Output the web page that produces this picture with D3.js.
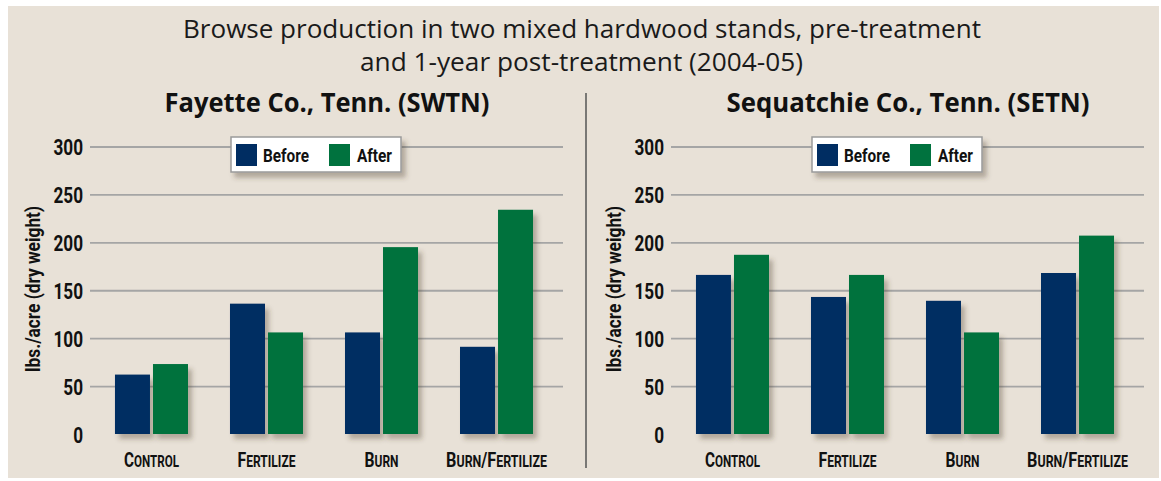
<!DOCTYPE html>
<html>
<head>
<meta charset="utf-8">
<title>Browse production</title>
<script src="https://d3js.org/d3.v7.min.js"></script>
<style>
    body { margin: 0; background: #ffffff; }
    .cond { font-family: Roboto, 'Liberation Sans', sans-serif; font-weight: bold; fill: #111; }
    .main { font-family: 'Open Sans', 'Noto Sans', sans-serif; fill: #1a1a1a; }
</style>
</head>
<body>
<div id="chart"></div>
<script>
// data
var categories = ["Control", "Fertilize", "Burn", "Burn/Fertilize"];
var seriesNames = ["Before", "After"];
var fayetteBefore = [62, 136, 106, 91];
var fayetteAfter = [73, 106, 195, 234];
var sequatchieBefore = [166, 143, 139, 168];
var sequatchieAfter = [187, 166, 106, 207];
var yTicks = [0, 50, 100, 150, 200, 250, 300];
var colors = ["#002d62", "#00723e"];
var labelWidths = [55, 58, 34, 101];

var W = 1161, H = 481;

var svg = d3.select("#chart").append("svg")
    .attr("width", W)
    .attr("height", H);

var defs = svg.append("defs");
var f = defs.append("filter").attr("id", "shadow")
    .attr("x", "-20%").attr("y", "-20%").attr("width", "150%").attr("height", "150%");
f.append("feDropShadow")
    .attr("dx", 4).attr("dy", 5).attr("stdDeviation", 2.5)
    .attr("flood-color", "#4a3c2c").attr("flood-opacity", 0.35);

// beige card
svg.append("rect")
    .attr("x", 8).attr("y", 6)
    .attr("width", 1151).attr("height", 472)
    .attr("fill", "#e8e1d7");

// squeeze text to a given width (no condensed fonts installed)
function fit(sel, w) {
    sel.attr("textLength", w).attr("lengthAdjust", "spacingAndGlyphs");
}
function squeeze(sel, k) {
    sel.each(function () {
        var len = this.getComputedTextLength();
        d3.select(this).attr("textLength", len * k).attr("lengthAdjust", "spacingAndGlyphs");
    });
}

svg.append("text").attr("class", "main")
    .attr("x", 582).attr("y", 38)
    .attr("text-anchor", "middle").style("font-size", "26px")
    .text("Browse production in two mixed hardwood stands, pre-treatment")
    .call(fit, 798);
svg.append("text").attr("class", "main")
    .attr("x", 581.5).attr("y", 71)
    .attr("text-anchor", "middle").style("font-size", "26px")
    .text("and 1-year post-treatment (2004-05)")
    .call(fit, 443);

// divider
svg.append("line")
    .attr("x1", 586).attr("x2", 586)
    .attr("y1", 93).attr("y2", 468)
    .attr("stroke", "#555").attr("stroke-width", 1.5);

var y = d3.scaleLinear().domain([0, 300]).range([434, 146.5]);

function drawPanel(dx, title, titleW, before, after) {
    var g = svg.append("g").attr("transform", "translate(" + dx + ",0)");

    var x = d3.scaleBand().domain(categories)
        .range([93, 555]).paddingInner(0.365).paddingOuter(0.191);
    var xs = d3.scaleBand().domain(seriesNames)
        .range([0, x.bandwidth()]).paddingInner(0.079);

    // title
    g.append("text").attr("class", "main")
        .attr("x", 327).attr("y", 112)
        .attr("text-anchor", "middle")
        .style("font-size", "27px").style("font-weight", "bold").style("fill", "#111")
        .text(title)
        .call(fit, titleW);

    // y axis with gridlines
    var ax = g.append("g")
        .attr("transform", "translate(90,0)")
        .call(d3.axisLeft(y).tickValues(yTicks).tickSize(-473).tickPadding(7));
    ax.select(".domain").remove();
    ax.selectAll(".tick line")
        .attr("stroke", "#a5a5a5").attr("stroke-width", 1.8)
        .filter(function (d) { return d === 0; }).remove();
    ax.selectAll(".tick text")
        .attr("class", "cond")
        .attr("dy", "0.38em")
        .style("font-size", "22px")
        .call(squeeze, 0.78);

    // y title
    g.append("text").attr("class", "cond")
        .attr("transform", "translate(40,289) rotate(-90)")
        .attr("text-anchor", "middle")
        .style("font-size", "21px")
        .text("lbs./acre (dry weight)")
        .call(fit, 166);

    // bars
    var rows = categories.map(function (c, i) {
        return { cat: c, vals: [before[i], after[i]] };
    });
    var grp = g.selectAll(".grp").data(rows).enter().append("g")
        .attr("transform", function (d) { return "translate(" + x(d.cat) + ",0)"; });
    grp.selectAll("rect")
        .data(function (d) { return d.vals.map(function (v, j) { return { s: seriesNames[j], v: v, j: j }; }); })
        .enter().append("rect")
        .attr("x", function (d) { return xs(d.s); })
        .attr("y", function (d) { return y(d.v); })
        .attr("width", xs.bandwidth())
        .attr("height", function (d) { return y(0) - y(d.v); })
        .attr("fill", function (d) { return colors[d.j]; })
        .attr("filter", "url(#shadow)");

    // category labels in small caps, squeezed by a horizontal scale
    categories.forEach(function (c, i) {
        var t = g.append("text").attr("class", "cond")
            .attr("x", 0).attr("y", 0)
            .attr("text-anchor", "middle");
        c.split(/(\/)/).forEach(function (part) {
            if (part === "/") {
                t.append("tspan").style("font-size", "21px").text("/");
            } else {
                t.append("tspan").style("font-size", "21px").text(part[0].toUpperCase());
                t.append("tspan").style("font-size", "16px").text(part.slice(1).toUpperCase());
            }
        });
        var k = labelWidths[i] / t.node().getComputedTextLength();
        t.attr("transform", "translate(" + (x(c) + x.bandwidth() / 2) + ",467) scale(" + k + ",1)");
    });

    // legend
    var lg = g.append("g").attr("transform", "translate(231,137)");
    lg.append("rect")
        .attr("width", 170).attr("height", 35)
        .attr("fill", "#fff").attr("stroke", "#9a9a9a").attr("stroke-width", 1.5)
        .attr("filter", "url(#shadow)");
    var items = [{ n: "Before", sx: 5, tx: 32, w: 46 }, { n: "After", sx: 98, tx: 126, w: 35 }];
    items.forEach(function (it, j) {
        lg.append("rect").attr("x", it.sx).attr("y", 7)
            .attr("width", 21).attr("height", 22).attr("fill", colors[j]);
        lg.append("text").attr("class", "cond")
            .attr("x", it.tx).attr("y", 25)
            .style("font-size", "19px")
            .text(it.n)
            .call(fit, it.w);
    });
}

drawPanel(0, "Fayette Co., Tenn. (SWTN)", 325, fayetteBefore, fayetteAfter);
drawPanel(581, "Sequatchie Co., Tenn. (SETN)", 363, sequatchieBefore, sequatchieAfter);
</script>
</body>
</html>
